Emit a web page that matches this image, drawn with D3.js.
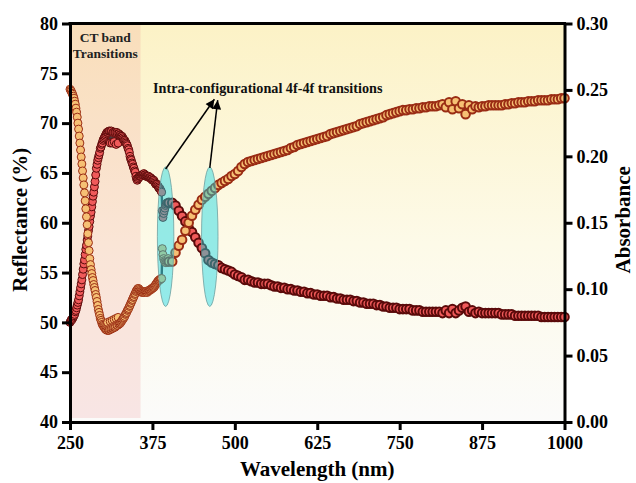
<!DOCTYPE html>
<html>
<head>
<meta charset="utf-8">
<script src="https://cdn.jsdelivr.net/npm/d3@7"></script>
<style>
  html, body { margin: 0; padding: 0; background: #ffffff; }
  svg { display: block; }
  text { font-family: "Liberation Serif", "Times New Roman", serif; font-weight: bold; }
</style>
</head>
<body>
<svg id="chart" width="636" height="483"></svg>
<script>
// Wavelength grids (nm): 1-nm steps through the UV, 5-nm steps across the visible/NIR
const wlUV  = d3.range(250, 400, 1);
const wlVis = d3.range(400, 1001, 5);

// Diffuse reflectance (%), left axis
const reflUV = [
  73.4,73.3,73.2,73.0,72.9,72.7,72.5,72.2,71.9,71.5,
  71.1,70.6,70.0,69.4,68.7,68.0,67.3,66.6,65.9,65.2,
  64.5,63.8,63.0,62.2,61.4,60.6,59.8,58.9,58.0,57.2,
  56.4,55.8,55.3,54.9,54.5,54.2,53.8,53.5,53.2,52.8,
  52.5,52.1,51.7,51.3,51.0,50.7,50.4,50.2,50.0,49.8,
  49.7,49.6,49.5,49.4,49.3,49.3,49.2,50.0,49.2,49.2,
  49.3,50.1,49.3,49.4,50.2,49.4,49.5,50.3,49.5,49.6,
  50.4,49.7,49.7,50.5,49.8,49.9,49.9,50.0,50.1,50.2,
  50.3,50.4,50.5,50.6,50.8,50.9,51.0,51.2,51.3,51.4,
  51.6,51.7,51.9,52.0,52.2,52.3,52.5,52.6,52.8,52.9,
  53.1,53.2,53.3,53.4,53.4,53.3,53.2,53.1,53.1,53.0,
  53.1,53.0,53.1,53.0,53.1,53.1,53.1,53.0,53.1,53.2,
  53.2,53.2,53.3,53.3,53.4,53.4,53.5,53.5,53.6,53.7,
  53.8,53.9,54.0,54.1,54.2,54.2,54.3,54.3,54.4,54.4,
  57.4,56.8,56.4,56.2,56.1,56.0,56.0,56.1,56.2,56.4
];
const reflVis = [
  56.1,56.1,57.0,57.7,58.3,59.2,60.0,60.7,61.3,61.8,
  62.3,62.6,62.9,63.2,63.5,63.8,64.0,64.2,64.4,64.7,
  64.9,65.2,65.6,65.9,66.1,66.2,66.3,66.4,66.5,66.6,
  66.7,66.8,66.9,67.0,67.1,67.2,67.3,67.5,67.6,67.8,
  67.9,68.0,68.1,68.2,68.3,68.4,68.5,68.6,68.7,68.9,
  69.0,69.1,69.2,69.3,69.4,69.5,69.6,69.7,69.9,70.0,
  70.1,70.2,70.3,70.4,70.5,70.6,70.8,70.9,71.0,71.1,
  71.2,71.3,71.3,71.4,71.4,71.5,71.5,71.6,71.6,71.7,
  71.7,71.7,71.8,71.9,71.6,72.1,71.4,72.2,71.5,71.9,
  70.9,71.8,71.4,71.7,71.6,71.7,71.7,71.8,71.8,71.8,
  71.8,71.8,71.9,71.9,72.0,72.0,72.1,72.1,72.1,72.2,
  72.2,72.2,72.3,72.3,72.3,72.3,72.4,72.4,72.4,72.5,
  72.5
];

// Absorbance (a.u.), right axis
const absUV = [
  0.075,0.076,0.077,0.077,0.078,0.079,0.080,0.081,0.083,0.084,
  0.086,0.088,0.090,0.092,0.095,0.098,0.101,0.104,0.107,0.111,
  0.115,0.119,0.122,0.126,0.130,0.133,0.137,0.140,0.144,0.147,
  0.151,0.155,0.158,0.162,0.166,0.170,0.173,0.177,0.181,0.186,
  0.191,0.194,0.197,0.199,0.201,0.203,0.206,0.207,0.209,0.210,
  0.212,0.213,0.214,0.215,0.216,0.217,0.218,0.218,0.218,0.219,
  0.219,0.210,0.219,0.219,0.210,0.218,0.218,0.211,0.218,0.218,
  0.209,0.218,0.217,0.210,0.217,0.216,0.216,0.215,0.215,0.215,
  0.214,0.213,0.212,0.212,0.211,0.210,0.209,0.208,0.206,0.205,
  0.203,0.200,0.198,0.197,0.195,0.194,0.192,0.191,0.189,0.188,
  0.185,0.183,0.182,0.183,0.184,0.185,0.185,0.185,0.185,0.186,
  0.186,0.186,0.187,0.186,0.186,0.185,0.185,0.185,0.185,0.185,
  0.184,0.184,0.184,0.183,0.183,0.182,0.182,0.182,0.181,0.180,
  0.179,0.179,0.179,0.178,0.177,0.176,0.176,0.175,0.174,0.173,
  0.159,0.154,0.157,0.159,0.161,0.163,0.164,0.165,0.165,0.165
];
const absVis = [
  0.165,0.165,0.163,0.159,0.155,0.151,0.146,0.143,0.139,0.135,
  0.131,0.127,0.122,0.120,0.119,0.118,0.116,0.115,0.114,0.113,
  0.111,0.110,0.109,0.107,0.107,0.106,0.105,0.105,0.104,0.104,
  0.104,0.103,0.102,0.102,0.101,0.101,0.100,0.100,0.099,0.099,
  0.098,0.098,0.097,0.097,0.096,0.096,0.095,0.095,0.095,0.094,
  0.094,0.093,0.093,0.092,0.092,0.092,0.091,0.091,0.090,0.090,
  0.089,0.089,0.089,0.088,0.088,0.087,0.087,0.086,0.086,0.086,
  0.085,0.085,0.085,0.085,0.084,0.084,0.084,0.083,0.083,0.083,
  0.083,0.083,0.083,0.082,0.084,0.082,0.085,0.082,0.084,0.086,
  0.087,0.083,0.084,0.082,0.083,0.082,0.082,0.082,0.082,0.082,
  0.082,0.081,0.081,0.081,0.081,0.080,0.080,0.080,0.080,0.080,
  0.080,0.080,0.080,0.079,0.079,0.079,0.079,0.079,0.079,0.079,
  0.079
];

// Axis ticks
const xTicks = [250, 375, 500, 625, 750, 875, 1000];
const yLeftTicks = [40, 45, 50, 55, 60, 65, 70, 75, 80];
const yRightTicks = [0, 0.05, 0.10, 0.15, 0.20, 0.25, 0.30];

// Highlighted regions and labels
const ctBand = { from: 250, to: 357, label: ["CT band", "Transitions"] };
const ffBands = [395, 462];            // centres of the 4f-4f absorption features (nm)
const ffLabel = "Intra-configurational 4f-4f transitions";

const svg = d3.select("#chart");
const W = 636, H = 483;
const m = { left: 70, right: 71.5, top: 23.5, bottom: 61 };
const x = d3.scaleLinear().domain([250, 1000]).range([m.left, W - m.right]);
const yL = d3.scaleLinear().domain([40, 80]).range([H - m.bottom, m.top]);
const yR = d3.scaleLinear().domain([0, 0.30]).range([H - m.bottom, m.top]);

// Plot background: pale yellow fading to white
const defs = svg.append("defs");
const grad = defs.append("linearGradient").attr("id", "bg").attr("x1", 0).attr("y1", 0).attr("x2", 0).attr("y2", 1);
grad.append("stop").attr("offset", "0%").attr("stop-color", "#fcf2c6");
grad.append("stop").attr("offset", "55%").attr("stop-color", "#fdfae8");
grad.append("stop").attr("offset", "100%").attr("stop-color", "#fbfbfa");

svg.append("rect")
  .attr("x", x(250)).attr("y", yL(80))
  .attr("width", x(1000) - x(250)).attr("height", yL(40) - yL(80))
  .attr("fill", "url(#bg)");

// CT band shading
svg.append("rect")
  .attr("x", x(ctBand.from)).attr("y", yL(80))
  .attr("width", x(ctBand.to) - x(ctBand.from)).attr("height", yL(40.4) - yL(80))
  .attr("fill", "rgba(240,140,140,0.19)");

const wl = wlUV.concat(wlVis);
const refl = reflUV.concat(reflVis).map((v, i) => ({ w: wl[i], v }));
const abs = absUV.concat(absVis).map((v, i) => ({ w: wl[i], v }));

// Markers on the coarser 5-nm grid get a heavier outline so the trace reads as a continuous band
function drawSeries(data, yScale, fill, stroke) {
  const g = svg.append("g");
  g.append("path")
    .datum(data)
    .attr("d", d3.line().x(d => x(d.w)).y(d => yScale(d.v)))
    .attr("fill", "none")
    .attr("stroke", "#4a3838")
    .attr("stroke-width", 2.4);
  g.selectAll("circle").data(data).join("circle")
    .attr("cx", d => x(d.w))
    .attr("cy", d => yScale(d.v))
    .attr("r", d => d.w < 400 ? 4 : 4.3)
    .attr("fill", fill)
    .attr("stroke", stroke)
    .attr("stroke-width", d => d.w < 400 ? 1 : 2);
}
drawSeries(abs, yR, "#f05a5a", "#5a0a0a");
drawSeries(refl, yL, "#f6c074", "#9a2c14");

// 4f-4f features marked with translucent ellipses
const ellRx = 12.5, ellTop = 65.6, ellBottom = 51.6;
svg.selectAll("ellipse.ff").data(ffBands).join("ellipse")
  .attr("class", "ff")
  .attr("cx", d => x(d))
  .attr("cy", yL((ellTop + ellBottom) / 2))
  .attr("rx", x(250 + ellRx) - x(250))
  .attr("ry", yL(ellBottom) - yL((ellTop + ellBottom) / 2))
  .attr("fill", "rgba(20,215,228,0.45)")
  .attr("stroke", "#6f9f9f")
  .attr("stroke-width", 0.8);

// Arrows from the ellipses to the label
defs.append("marker")
  .attr("id", "arrow").attr("viewBox", "0 0 10 10")
  .attr("refX", 10).attr("refY", 5)
  .attr("markerWidth", 13).attr("markerHeight", 9)
  .attr("markerUnits", "userSpaceOnUse")
  .attr("orient", "auto")
  .append("path").attr("d", "M0,0 L10,5 L0,10 Z").attr("fill", "#000");

const arrows = [
  { from: [395, 65.4], to: [469, 72.4] },
  { from: [462, 65.5], to: [474, 72.3] }
];
svg.selectAll("line.arr").data(arrows).join("line")
  .attr("class", "arr")
  .attr("x1", d => x(d.from[0])).attr("y1", d => yL(d.from[1]))
  .attr("x2", d => x(d.to[0])).attr("y2", d => yL(d.to[1]))
  .attr("stroke", "#000").attr("stroke-width", 1.5)
  .attr("marker-end", "url(#arrow)");

svg.append("text")
  .attr("x", x(376)).attr("y", yL(73.0))
  .attr("font-size", 14.2).attr("fill", "#111")
  .text(ffLabel);

svg.append("text")
  .attr("x", x((ctBand.from + ctBand.to) / 2)).attr("text-anchor", "middle")
  .attr("font-size", 13.5).attr("fill", "#222")
  .selectAll("tspan").data(ctBand.label).join("tspan")
  .attr("x", x((ctBand.from + ctBand.to) / 2))
  .attr("y", (d, i) => yL(i === 0 ? 78.1 : 76.5))
  .text(d => d);

// Axes
const axisStyle = g => {
  g.select(".domain").attr("stroke", "#000").attr("stroke-width", 3);
  g.selectAll(".tick line").attr("stroke", "#000").attr("stroke-width", 3);
  g.selectAll(".tick text").attr("font-size", 18).attr("fill", "#000")
    .attr("font-family", "'Liberation Serif', 'Times New Roman', serif").attr("font-weight", "bold");
};

svg.append("g")
  .attr("transform", `translate(0,${H - m.bottom})`)
  .call(d3.axisBottom(x).tickValues(xTicks).tickFormat(d3.format("d")).tickSize(8).tickSizeOuter(0).tickPadding(6))
  .call(axisStyle);

svg.append("g")
  .attr("transform", `translate(${m.left},0)`)
  .call(d3.axisLeft(yL).tickValues(yLeftTicks).tickFormat(d3.format("d")).tickSize(8).tickSizeOuter(0).tickPadding(4))
  .call(axisStyle);

svg.append("g")
  .attr("transform", `translate(${W - m.right},0)`)
  .call(d3.axisRight(yR).tickValues(yRightTicks).tickFormat(d3.format(".2f")).tickSize(8).tickSizeOuter(0).tickPadding(4))
  .call(axisStyle);

// Top frame line
svg.append("line")
  .attr("x1", x(250) - 1.5).attr("x2", x(1000) + 1.5)
  .attr("y1", yL(80)).attr("y2", yL(80))
  .attr("stroke", "#000").attr("stroke-width", 3);

// Axis titles
svg.append("text")
  .attr("x", (x(250) + x(1000)) / 2).attr("y", 476)
  .attr("text-anchor", "middle").attr("font-size", 21)
  .text("Wavelength (nm)");

svg.append("text")
  .attr("transform", `translate(27,${(yL(40) + yL(80)) / 2 - 3}) rotate(-90)`)
  .attr("text-anchor", "middle").attr("font-size", 21)
  .text("Reflectance (%)");

svg.append("text")
  .attr("transform", `translate(630,${(yL(40) + yL(80)) / 2 - 3}) rotate(-90)`)
  .attr("text-anchor", "middle").attr("font-size", 21)
  .text("Absorbance");
</script>
</body>
</html>
